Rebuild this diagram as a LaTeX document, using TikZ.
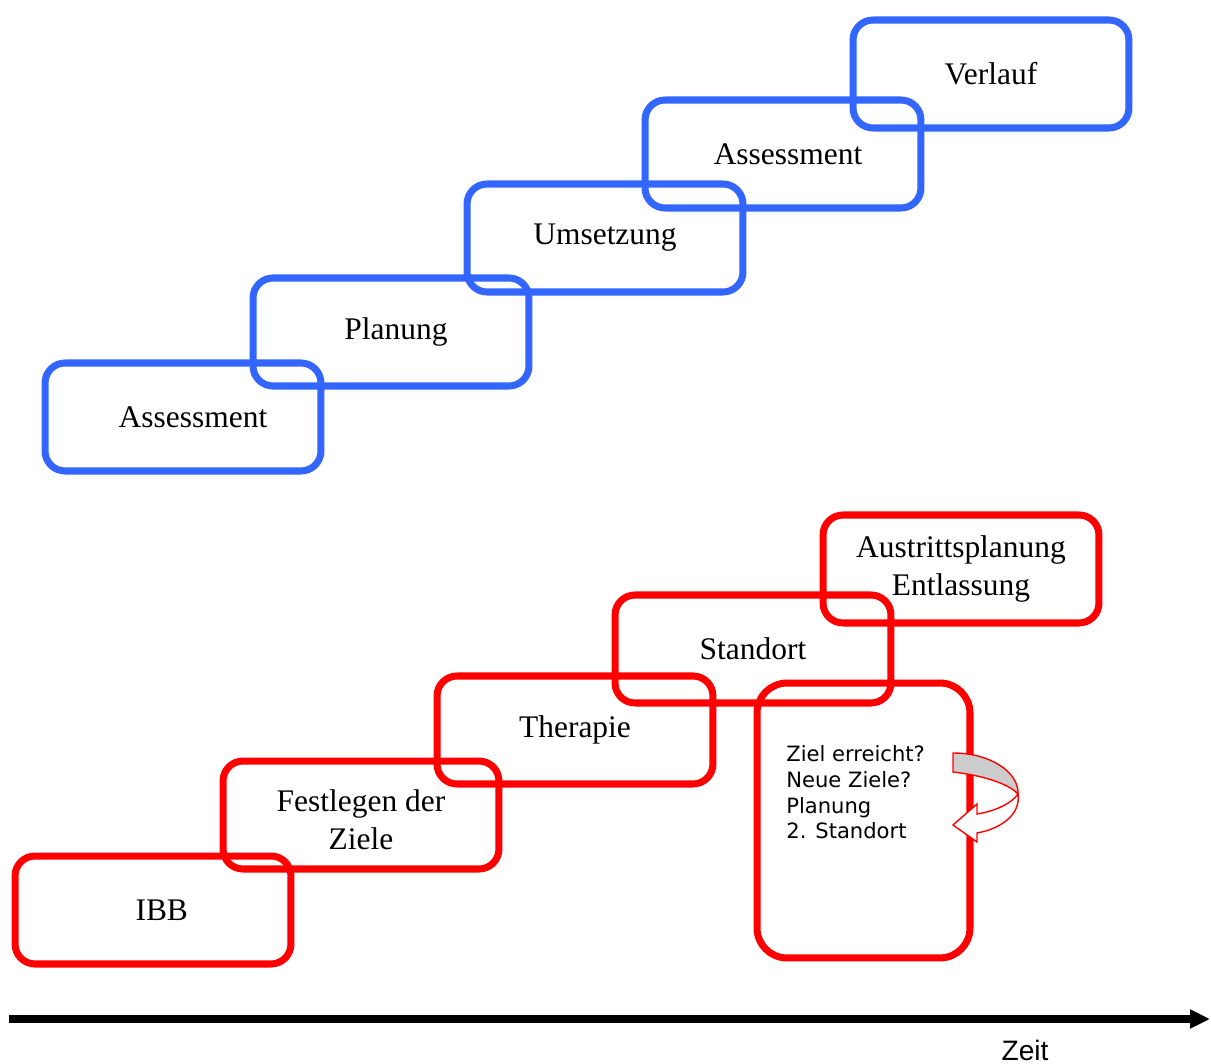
\documentclass[tikz,border=0pt]{standalone}
\usepackage{fontspec}
\setmainfont{Liberation Serif}
\newfontfamily\zielfont{DejaVu Sans}
\newfontfamily\zeitfont{Liberation Sans}
\usetikzlibrary{arrows.meta}
\definecolor{boxblue}{RGB}{51,102,255}
\definecolor{boxred}{RGB}{255,0,0}
\tikzset{
	box/.style={draw, rounded corners=0.4cm, line width=4pt, minimum width=5.52cm, minimum height=2.16cm, align=center, font=\fontsize{17.9}{21.5}\selectfont},
	bluebox/.style={box, draw=boxblue},
	redbox/.style={box, draw=boxred},
	loopbox/.style={draw=boxred, line width=4pt, rounded corners=0.6cm, minimum width=4.26cm, minimum height=5.5cm}
}
\begin{document}
\begin{tikzpicture}[x=0.02cm, y=-0.02cm]
	\useasboundingbox (0,0) rectangle (1211,1064);
	
	\node[bluebox] (b1) at (183,417) {\hspace*{0.4cm}Assessment};
	\node[bluebox] (b2) at (391,332) {\hspace*{0.2cm}Planung};
	\node[bluebox] (b3) at (605,238) {Umsetzung};
	\node[bluebox] (b4) at (783,154) {\hspace*{0.2cm}Assessment};
	\node[bluebox] (b5) at (991,74) {Verlauf};
	
	\node[redbox] (r1) at (153,910) {\hspace*{0.35cm}IBB};
	\node[redbox] (r2) at (361,815) {\\[-4pt]Festlegen der\\Ziele};
	\node[redbox] (r3) at (575,730) {Therapie};
	\node[redbox] (r4) at (753,649) {Standort};
	\node[redbox] (r5) at (961,569) {Austrittsplanung\\Entlassung};
	\node[loopbox] (r6) at (863.5,820.5) {};
	\node[anchor=north west, align=left, inner sep=0pt, font=\zielfont\fontsize{12}{14.7}\selectfont] (ziel) at (786,745) {Ziel erreicht?\\Neue Ziele?\\Planung\\2. Standort};
	
	\draw[draw=boxred, fill=black!20, line width=0.8pt] (953,753) -- (953,772) .. controls (980,775) and (1008,783) .. (1018,794) .. controls (1019,772) and (990,753) .. (953,753) -- cycle;
	\draw[draw=boxred, fill=white, line width=0.8pt] (1018,794) .. controls (1021,815) and (1000,829) .. (977,833) -- (977,842) -- (953,825) -- (977,804) -- (977,814) .. controls (996,811) and (1012,803) .. (1018,794) -- cycle;
	
	\coordinate (t0) at (9,1019);
	\coordinate (t1) at (1210,1019);
	\draw[line width=4pt, -{Triangle[length=0.4cm,width=0.36cm]}] (t0) -- (t1);
	\node[font=\zeitfont\fontsize{16}{19}\selectfont] (zeit) at (1025,1050) {Zeit};
\end{tikzpicture}
\end{document}
